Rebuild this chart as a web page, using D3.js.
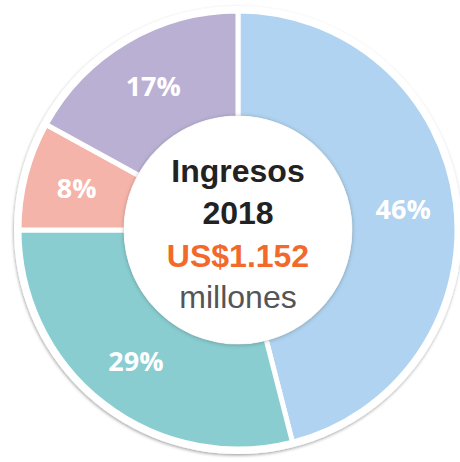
<!DOCTYPE html>
<html>
<head>
<meta charset="utf-8">
<script src="https://cdn.jsdelivr.net/npm/d3@7"></script>
<style>
  body { margin: 0; background: #fff; }
</style>
</head>
<body>
<script>
// Revenue shares (%) clockwise from 12 o'clock
const shares = [46, 29, 8, 17];
const sliceColors = ["#AFD3F0", "#89CDD0", "#F5B4A9", "#BAB0D4"];

// Centre text
const titleLines = ["Ingresos", "2018"];
const amountText = "US$1.152";
const unitText = "millones";

const width = 460;
const height = 462;
const cx = 238, cy = 230;
const outerR = 219, innerR = 112;

const svg = d3.select("body").append("svg")
    .attr("width", width)
    .attr("height", height);

// soft shadows
const defs = svg.append("defs");
const ringShadow = defs.append("filter").attr("id", "ringShadow")
    .attr("x", "-10%").attr("y", "-10%").attr("width", "120%").attr("height", "120%");
ringShadow.append("feDropShadow")
    .attr("dx", -0.5).attr("dy", 1.5).attr("stdDeviation", 1.5)
    .attr("flood-color", "#000").attr("flood-opacity", 0.35);
const holeShadow = defs.append("filter").attr("id", "holeShadow")
    .attr("x", "-10%").attr("y", "-10%").attr("width", "120%").attr("height", "120%");
holeShadow.append("feDropShadow")
    .attr("dx", 0).attr("dy", 0.5).attr("stdDeviation", 2)
    .attr("flood-color", "#000").attr("flood-opacity", 0.3);

const g = svg.append("g").attr("transform", `translate(${cx},${cy})`);

// white outer border behind the slices
g.append("circle")
    .attr("r", outerR + 5)
    .attr("fill", "#fff")
    .attr("filter", "url(#ringShadow)");

const pie = d3.pie().sort(null).value(d => d);
const arc = d3.arc().innerRadius(innerR).outerRadius(outerR);
const labelArc = d3.arc().innerRadius(114).outerRadius(outerR);

const arcs = pie(shares);

g.selectAll("path.slice")
    .data(arcs)
    .join("path")
    .attr("class", "slice")
    .attr("d", arc)
    .attr("fill", (d, i) => sliceColors[i])
    .attr("stroke", "#fff")
    .attr("stroke-width", 5)
    .attr("stroke-linejoin", "miter");

// centre hole
g.append("circle")
    .attr("r", 114)
    .attr("fill", "#fff")
    .attr("filter", "url(#holeShadow)");

// percentage labels
g.selectAll("text.pct")
    .data(arcs)
    .join("text")
    .attr("class", "pct")
    .attr("transform", d => {
        const [x, y] = labelArc.centroid(d);
        return `translate(${x},${y})`;
    })
    .attr("dy", "0.36em")
    .attr("text-anchor", "middle")
    .attr("font-family", "'Open Sans', sans-serif")
    .attr("font-weight", 700)
    .attr("font-size", 27)
    .attr("fill", "#fff")
    .text(d => d.data + "%");

// centre text
const centre = svg.append("g")
    .attr("text-anchor", "middle")
    .attr("font-family", "'Liberation Sans', Arial, sans-serif")
    .attr("font-size", 32);

centre.selectAll("text.title")
    .data(titleLines)
    .join("text")
    .attr("class", "title")
    .attr("x", cx)
    .attr("y", (d, i) => 182 + i * 42)
    .attr("font-weight", 700)
    .attr("fill", "#222")
    .text(d => d);

centre.append("text")
    .attr("x", cx)
    .attr("y", 266.5)
    .attr("font-weight", 700)
    .attr("fill", "#F26A2B")
    .text(amountText);

centre.append("text")
    .attr("x", cx)
    .attr("y", 308)
    .attr("fill", "#555")
    .text(unitText);
</script>
</body>
</html>
